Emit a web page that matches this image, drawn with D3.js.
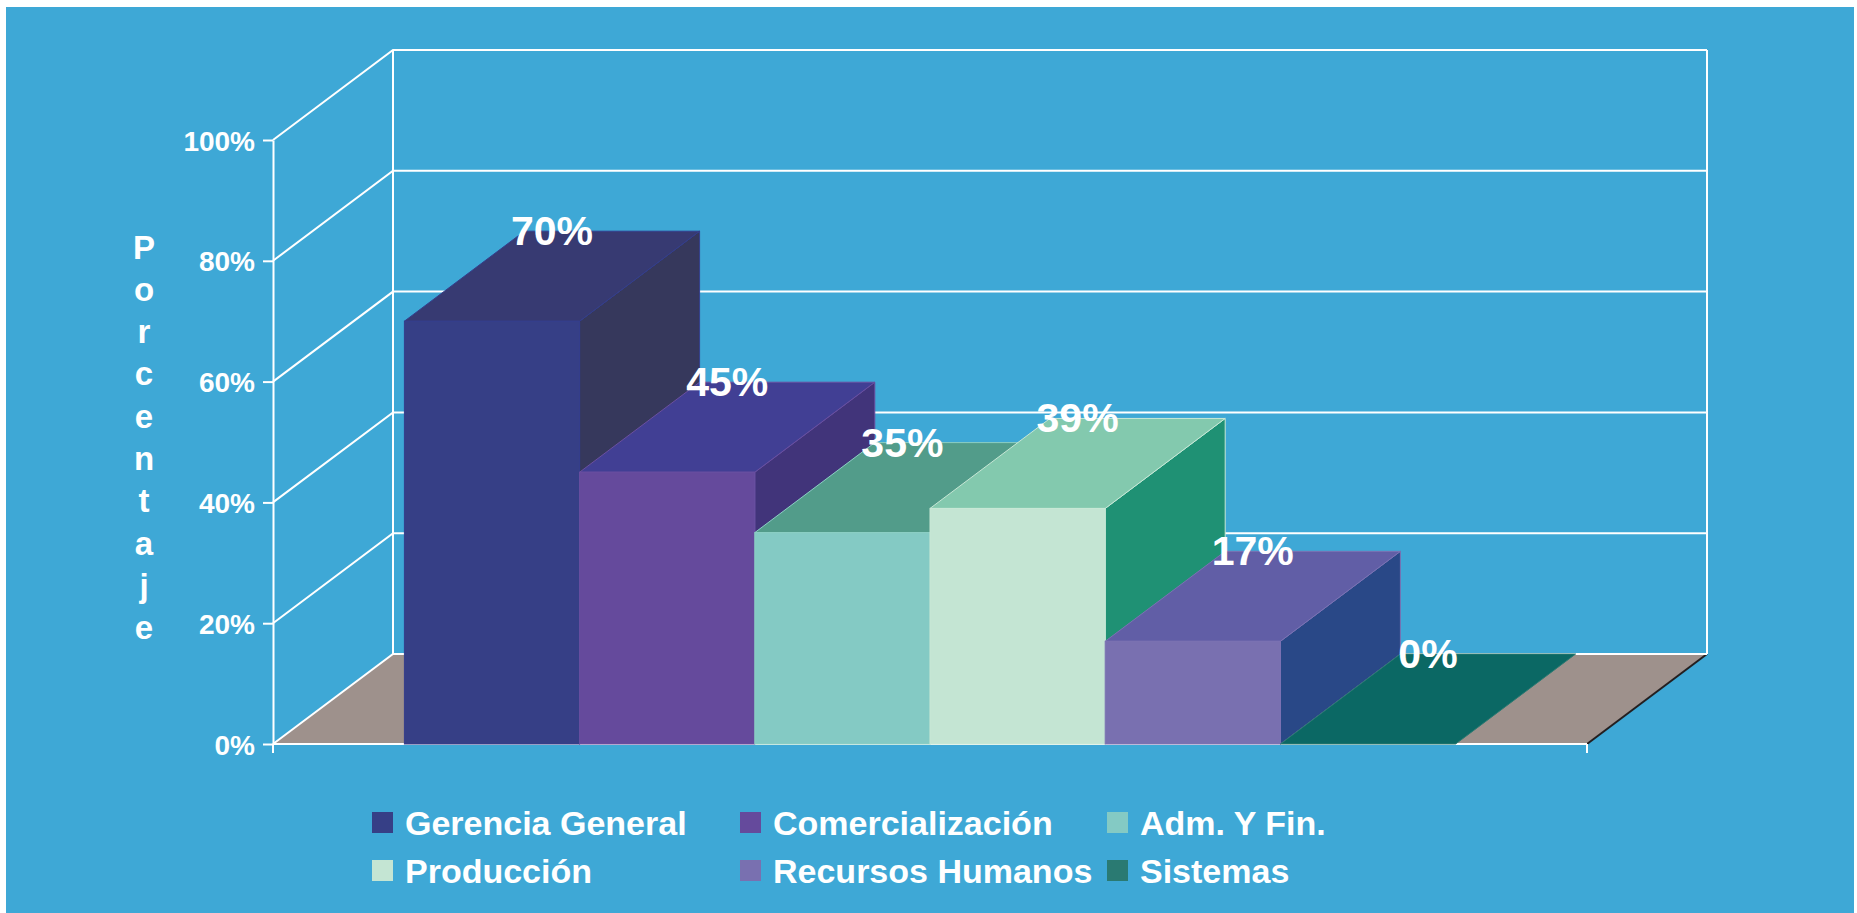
<!DOCTYPE html>
<html>
<head>
<meta charset="utf-8">
<script src="https://cdn.jsdelivr.net/npm/d3@7"></script>
<style>
  html, body { margin: 0; padding: 0; background: #ffffff; }
  svg { display: block; }
  text { font-family: "Liberation Sans", Arial, Helvetica, sans-serif; font-weight: bold; fill: #ffffff; }
</style>
</head>
<body>
<svg id="chart" width="1857" height="913"></svg>
<script>
// ---- data ----
const categories = ["Gerencia General", "Comercialización", "Adm. Y Fin.", "Producción", "Recursos Humanos", "Sistemas"];
const values = [70, 45, 35, 39, 17, 0];
const tickValues = [0, 20, 40, 60, 80, 100];
const axisTitle = "Porcentaje";
const frontColors = ["#363F86", "#654A9C", "#84CAC4", "#C4E5D3", "#7970B0", "#2A7A72"];
const topColors   = ["#373A72", "#413F94", "#529C8A", "#83C9AE", "#615EA6", "#0B6864"];
const sideColors  = ["#36385C", "#41347A", "#3F8F7F", "#1F9174", "#294887", "#0B5550"];
const edgeColors  = ["#353E8C", "#6A4FA0", "#8CCFC4", "#C8E8D6", "#7C72B3", "#2A7A72"];
const legendColors = ["#363F86", "#654A9C", "#84CAC4", "#C4E5D3", "#7970B0", "#2A7A72"];

// ---- layout ----
const W = 1857, H = 913;
const svg = d3.select("#chart");
const dx = 120, dy = 90;           // oblique depth offset
const frontLeft = 273, frontRight = 1587;
const x = d3.scaleBand().domain(categories).range([frontLeft, frontRight]).paddingInner(0).paddingOuter(0.75);
const y = d3.scaleLinear().domain([0, 100]).range([744, 140]);

// background
svg.append("rect").attr("x", 6).attr("y", 7).attr("width", 1848).attr("height", H - 7).attr("fill", "#3EA8D6");

const line = d3.line();
const g = svg.append("g");

// floor
const y0 = y(0);
g.append("path")
  .attr("d", line([[frontLeft, y0], [frontLeft + dx, y0 - dy], [frontRight + dx, y0 - dy], [frontRight, y0]]) + "Z")
  .attr("fill", "#9E918C");
// floor right edge (dark)
g.append("path").attr("d", line([[frontRight, y0], [frontRight + dx, y0 - dy]]))
  .attr("stroke", "#231F20").attr("stroke-width", 2).attr("fill", "none");

// gridlines: side wall diagonals + back wall horizontals
tickValues.forEach(t => {
  const yy = y(t);
  g.append("path")
    .attr("d", line([[frontLeft, yy], [frontLeft + dx, yy - dy], [frontRight + dx, yy - dy]]))
    .attr("stroke", "#ffffff").attr("stroke-width", 2).attr("fill", "none");
});
// back wall verticals
[frontLeft + dx, frontRight + dx].forEach(xx => {
  g.append("line").attr("x1", xx).attr("x2", xx).attr("y1", y(100) - dy).attr("y2", y(0) - dy)
    .attr("stroke", "#ffffff").attr("stroke-width", 2);
});
// floor front edge
g.append("line").attr("x1", frontLeft).attr("x2", frontRight).attr("y1", y0).attr("y2", y0)
  .attr("stroke", "#ffffff").attr("stroke-width", 2);
// small ticks below the floor front corners
[frontLeft, frontRight].forEach(xx => {
  g.append("line").attr("x1", xx).attr("x2", xx).attr("y1", y0).attr("y2", y0 + 9)
    .attr("stroke", "#ffffff").attr("stroke-width", 2);
});

// y axis
const yAxis = d3.axisLeft(y).tickValues(tickValues).tickFormat(d => d + "%").tickSize(10).tickSizeOuter(0).tickPadding(8);
const ax = svg.append("g").attr("transform", `translate(${frontLeft},0)`).call(yAxis);
ax.select(".domain").attr("stroke", "#ffffff").attr("stroke-width", 2);
ax.selectAll(".tick line").attr("stroke", "#ffffff").attr("stroke-width", 2);
ax.selectAll(".tick text").attr("fill", "#ffffff").style("font-size", "28px")
  .style("font-family", "'Liberation Sans', Arial, sans-serif").style("font-weight", "bold").attr("dy", "0.36em");

// axis title (stacked letters)
const title = svg.append("text").attr("text-anchor", "middle").style("font-size", "33px");
axisTitle.split("").forEach((ch, i) => {
  title.append("tspan").attr("x", 144).attr("y", 247 + i * 42.3).attr("dominant-baseline", "central").text(ch);
});

// bars (drawn left to right)
const bw = x.bandwidth();
const bars = svg.append("g");
categories.forEach((c, i) => {
  const v = values[i];
  const x0 = x(c), x1 = x0 + bw, yt = y(v), yb = y(0);
  const bg = bars.append("g");
  if (v > 0) {
    bg.append("path")
      .attr("d", line([[x1, yt], [x1 + dx, yt - dy], [x1 + dx, yb - dy], [x1, yb]]) + "Z")
      .attr("fill", sideColors[i]).attr("stroke", edgeColors[i]).attr("stroke-width", 1);
  }
  bg.append("path")
    .attr("d", line([[x0, yt], [x1, yt], [x1 + dx, yt - dy], [x0 + dx, yt - dy]]) + "Z")
    .attr("fill", topColors[i]).attr("stroke", edgeColors[i]).attr("stroke-width", 1);
  if (v > 0) {
    bg.append("rect").attr("x", x0).attr("y", yt).attr("width", bw).attr("height", yb - yt)
      .attr("fill", frontColors[i]).attr("stroke", edgeColors[i]).attr("stroke-width", 1);
  }
});
// value labels
categories.forEach((c, i) => {
  const v = values[i];
  svg.append("text")
    .attr("x", x(c) + bw / 2 + dx / 2)
    .attr("y", y(v) - dy)
    .attr("text-anchor", "middle")
    .attr("dominant-baseline", "central")
    .style("font-size", "41px")
    .text(v + "%");
});

// legend
const legCols = [372, 740, 1107];
const legRows = [823, 871];
const legend = svg.append("g");
categories.forEach((c, i) => {
  const col = i % 3, row = Math.floor(i / 3);
  const lx = legCols[col], ly = legRows[row];
  legend.append("rect").attr("x", lx).attr("y", ly - 11).attr("width", 21).attr("height", 21)
    .attr("fill", legendColors[i]);
  legend.append("text").attr("x", lx + 33).attr("y", ly).attr("dominant-baseline", "central")
    .style("font-size", "34px").text(c);
});
</script>
</body>
</html>
